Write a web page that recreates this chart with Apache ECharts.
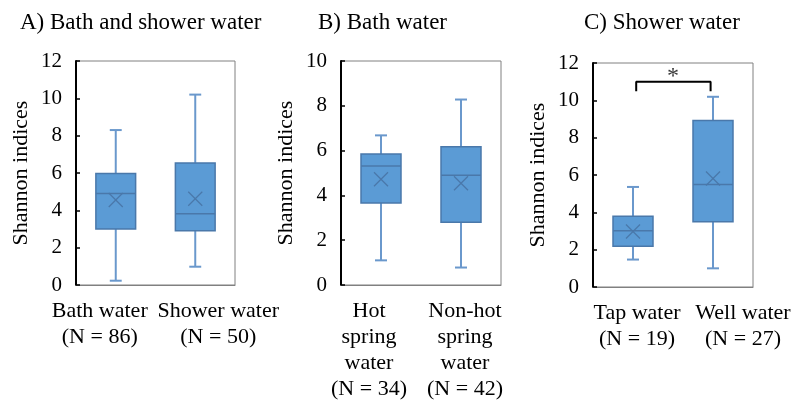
<!DOCTYPE html>
<html><head><meta charset="utf-8">
<script src="https://cdn.jsdelivr.net/npm/echarts@6/dist/echarts.min.js"></script>
<style>html,body{margin:0;padding:0;background:#fff}#c{width:794px;height:407px}</style>
</head><body><div id="c"></div>
<script>
// Panel A: Bath and shower water
const catsA = ["Bath water\n(N = 86)", "Shower water\n(N = 50)"];
const minA = [0.23, 0.98];
const q1A = [3.0, 2.9];
const medA = [4.9, 3.82];
const q3A = [5.97, 6.54];
const maxA = [8.3, 10.2];
const meanA = [4.55, 4.62];
// Panel B: Bath water
const catsB = ["Hot\nspring\nwater\n(N = 34)", "Non-hot\nspring\nwater\n(N = 42)"];
const minB = [1.1, 0.78];
const q1B = [3.66, 2.8];
const medB = [5.31, 4.9];
const q3B = [5.85, 6.17];
const maxB = [6.68, 8.28];
const meanB = [4.72, 4.54];
// Panel C: Shower water
const catsC = ["Tap water\n(N = 19)", "Well water\n(N = 27)"];
const minC = [1.47, 1.0];
const q1C = [2.18, 3.49];
const medC = [3.02, 5.49];
const q3C = [3.79, 8.92];
const maxC = [5.36, 10.19];
const meanC = [2.97, 5.81];
// Significance bracket (panel C)
const bracketX = [0.04, 0.97];
const bracketLow = 10.48;
const bracketHigh = 11.0;
const starPos = [0.5, 11.25];

const titles = ["A) Bath and shower water", "B) Bath water", "C) Shower water"];
const yMax = [12, 10, 12];

const FONT = "Liberation Serif";

function build(mn, q1, md, q3, mx, mean) {
  return mn.map((v, i) => [i, mn[i], q1[i], md[i], q3[i], mx[i], mean[i]]);
}
const panels = [
  build(minA, q1A, medA, q3A, maxA, meanA),
  build(minB, q1B, medB, q3B, maxB, meanB),
  build(minC, q1C, medC, q3C, maxC, meanC)
];
const cats = [catsA, catsB, catsC];
// label horizontal paddings [right, left] to offset label centres like the reference
const labelPad = [[[32, 0], [0, 46]], [[24, 0], [0, 8]], [[0, 8], [0, 60]]];

function renderBox(params, api) {
  const idx = api.value(0);
  const pMin = api.coord([idx, api.value(1)]);
  const pQ1 = api.coord([idx, api.value(2)]);
  const pMed = api.coord([idx, api.value(3)]);
  const pQ3 = api.coord([idx, api.value(4)]);
  const pMax = api.coord([idx, api.value(5)]);
  const pMean = api.coord([idx, api.value(6)]);
  const bw = api.size([1, 0])[0];
  const boxW = bw * 0.5;
  const capW = boxW * 0.3;
  const x = pMed[0];
  const wc = '#6a98cc';
  const dark = '#4a78aa';
  const m = 7;
  return {
    type: 'group',
    children: [
      {type: 'line', shape: {x1: x, y1: pMax[1], x2: x, y2: pQ3[1]}, style: {stroke: wc, lineWidth: 2}},
      {type: 'line', shape: {x1: x, y1: pQ1[1], x2: x, y2: pMin[1]}, style: {stroke: wc, lineWidth: 2}},
      {type: 'line', shape: {x1: x - capW / 2, y1: pMax[1], x2: x + capW / 2, y2: pMax[1]}, style: {stroke: wc, lineWidth: 2}},
      {type: 'line', shape: {x1: x - capW / 2, y1: pMin[1], x2: x + capW / 2, y2: pMin[1]}, style: {stroke: wc, lineWidth: 2}},
      {type: 'rect', shape: {x: x - boxW / 2, y: pQ3[1], width: boxW, height: pQ1[1] - pQ3[1]}, style: {fill: '#5b9bd5', stroke: dark, lineWidth: 1.5}},
      {type: 'line', shape: {x1: x - boxW / 2, y1: pMed[1], x2: x + boxW / 2, y2: pMed[1]}, style: {stroke: dark, lineWidth: 1.5}},
      {type: 'line', shape: {x1: x - m, y1: pMean[1] - m, x2: x + m, y2: pMean[1] + m}, style: {stroke: dark, lineWidth: 1.3}},
      {type: 'line', shape: {x1: x - m, y1: pMean[1] + m, x2: x + m, y2: pMean[1] - m}, style: {stroke: dark, lineWidth: 1.3}}
    ]
  };
}

const grids = [
  {left: 76, top: 61, width: 159, height: 224},
  {left: 341, top: 61, width: 160, height: 224},
  {left: 593, top: 63, width: 160, height: 224}
].map(g => Object.assign({show: true, borderColor: '#808080', borderWidth: 1, containLabel: false}, g));

const xAxes = cats.map((c, i) => ({
  type: 'category', gridIndex: i,
  data: c.map((v, j) => ({value: v, textStyle: {padding: [0, labelPad[i][j][0], 0, labelPad[i][j][1]]}})),
  axisLine: {show: true, lineStyle: {color: '#808080', width: 1}},
  axisTick: {show: false},
  axisLabel: {color: '#000', fontFamily: FONT, fontSize: 22, lineHeight: 26, margin: 13, interval: 0}
}));
xAxes.push({type: 'value', gridIndex: 2, min: -0.5, max: 1.5, show: false});

const yAxes = yMax.map((mx, i) => ({
  type: 'value', gridIndex: i, min: 0, max: mx, interval: 2,
  name: 'Shannon indices', nameLocation: 'middle', nameGap: 44,
  nameTextStyle: {color: '#000', fontFamily: FONT, fontSize: 22},
  axisLine: {show: true, onZero: false, lineStyle: {color: '#000', width: 2}},
  axisTick: {show: true, inside: true, length: 4, lineStyle: {color: '#000', width: 1.5}},
  splitLine: {show: false},
  axisLabel: {color: '#000', fontFamily: FONT, fontSize: 21, margin: 14}
}));

const series = panels.map((d, i) => ({
  type: 'custom', xAxisIndex: i, yAxisIndex: i, data: d,
  encode: {x: 0, y: [1, 2, 3, 4, 5, 6]},
  renderItem: renderBox, silent: true
}));
series.push({
  type: 'line', xAxisIndex: 3, yAxisIndex: 2, symbol: 'none', silent: true,
  lineStyle: {color: '#000', width: 2},
  data: [[bracketX[0], bracketLow], [bracketX[0], bracketHigh], [bracketX[1], bracketHigh], [bracketX[1], bracketLow]]
});
series.push({
  type: 'scatter', xAxisIndex: 3, yAxisIndex: 2, symbolSize: 1, silent: true,
  itemStyle: {color: 'rgba(0,0,0,0)'},
  label: {show: true, position: 'inside', formatter: '*', color: '#000', fontFamily: FONT, fontSize: 24},
  data: [starPos]
});

const chart = echarts.init(document.getElementById('c'), null, {renderer: 'canvas'});
chart.setOption({
  animation: false,
  backgroundColor: '#fff',
  title: [
    {text: titles[0], left: 15, top: 6},
    {text: titles[1], left: 313, top: 6},
    {text: titles[2], left: 579, top: 6}
  ].map(t => Object.assign({textStyle: {color: '#000', fontFamily: FONT, fontSize: 23, fontWeight: 'normal'}}, t)),
  grid: grids,
  xAxis: xAxes,
  yAxis: yAxes,
  series: series
});
</script>
</body></html>
